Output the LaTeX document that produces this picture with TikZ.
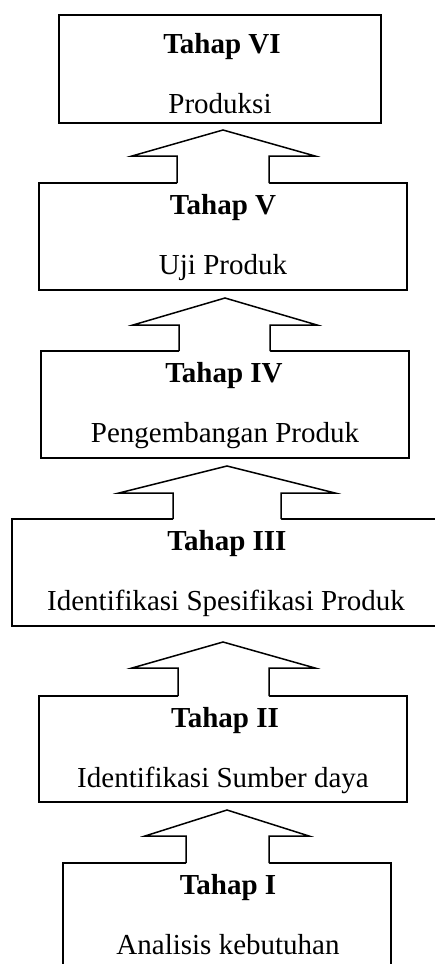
\documentclass[tikz,border=0pt]{standalone}
\usepackage{fontspec}
\setmainfont{Liberation Serif}
% block arrow: tipx tipy basey headL headR shaftL shaftR bottom
\newcommand\blockarrow[8]{%
  \fill[white] (#6,#8+2) -- (#6,#3) -- (#4,#3) -- (#1,#2) -- (#5,#3) -- (#7,#3) -- (#7,#8+2) -- cycle;
  \draw[arrowline] (#6,#8) -- (#6,#3) -- (#4,#3) -- (#1,#2) -- (#5,#3) -- (#7,#3) -- (#7,#8);
}
\begin{document}
\begin{tikzpicture}[x=1pt,y=-1pt,line width=1.5pt,
  stage/.style={draw, rectangle, anchor=north west, inner sep=0pt, outer sep=0pt},
  arrowline/.style={line join=miter},
  title/.style={anchor=base, inner sep=0pt, font=\fontsize{29}{34}\selectfont\bfseries},
  desc/.style={anchor=base, inner sep=0pt, font=\fontsize{29}{34}\selectfont}]
\useasboundingbox (0,0) rectangle (435,964);
\clip (0,0) rectangle (435,964);
% stage boxes
\node[stage, minimum width=322pt, minimum height=108pt] (s6) at (59,15) {};
\node[stage, minimum width=368pt, minimum height=107pt] (s5) at (39,183) {};
\node[stage, minimum width=368pt, minimum height=107pt] (s4) at (41,351) {};
\node[stage, minimum width=433pt, minimum height=107pt] (s3) at (12,519) {};
\node[stage, minimum width=368pt, minimum height=106pt] (s2) at (39,696) {};
\node[stage, minimum width=328pt, minimum height=112pt] (s1) at (63,863) {};
% block arrows (from lower stage up to upper stage)
\blockarrow{223}{130}{156}{132}{315}{177}{269}{183}
\blockarrow{225}{298}{325}{133}{317}{179}{270}{351}
\blockarrow{227}{466}{493}{119}{335}{173}{281}{519}
\blockarrow{223}{642}{668}{132}{315}{178}{269}{696}
\blockarrow{227}{810}{836}{145}{309}{186}{269}{863}
% texts
\node[title] (t6) at (222,53) {Tahap VI};
\node[desc]  (d6) at (220,113) {Produksi};
\node[title] (t5) at (223,214) {Tahap V};
\node[desc]  (d5) at (223,274) {Uji Produk};
\node[title] (t4) at (224,382) {Tahap IV};
\node[desc]  (d4) at (225,442) {Pengembangan Produk};
\node[title] (t3) at (227,550) {Tahap III};
\node[desc]  (d3) at (226,610) {Identifikasi Spesifikasi Produk};
\node[title] (t2) at (225,727) {Tahap II};
\node[desc]  (d2) at (223,787) {Identifikasi Sumber daya};
\node[title] (t1) at (228,894) {Tahap I};
\node[desc]  (d1) at (228,954) {Analisis kebutuhan};
\end{tikzpicture}
\end{document}
